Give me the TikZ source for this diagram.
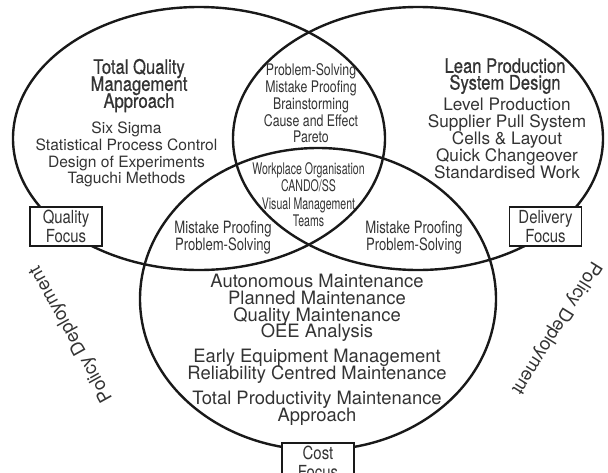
\documentclass[tikz,border=0pt]{standalone}
\usepackage{fontspec}
\setmainfont{TeX Gyre Heros}
\newfontfamily\condfont[FakeStretch=0.77]{TeX Gyre Heros}
\newfontfamily\narrowfont[FakeStretch=0.66]{TeX Gyre Heros}
\newfontfamily\focusfont[FakeStretch=0.83]{TeX Gyre Heros}
\newfontfamily\headfont[FakeStretch=0.83,FakeBold=0.6]{TeX Gyre Heros}
\definecolor{ink}{gray}{0.1}
\definecolor{textgray}{gray}{0.2}
\lineskiplimit=-20pt

\begin{document}
\begin{tikzpicture}[x=1pt,y=-1pt,
        ring/.style={draw=ink,line width=2.4pt},
        txt/.style={align=center,anchor=north,inner sep=0pt,text=textgray},
        focusbox/.style={draw=ink,line width=1.8pt,fill=white,align=center,inner sep=0pt,
            minimum width=72pt,minimum height=39pt,text=textgray,
            font=\focusfont\fontsize{18}{18.7}\selectfont},
        policy/.style={inner sep=0pt,text=textgray,font=\fontsize{18.5}{18.5}\selectfont}]

            %\draw [help lines] (0,0) grid (608,472);

            \useasboundingbox (0,0) rectangle (608,472);

            % the three rings
            \draw[ring] (199,138.5) ellipse [x radius=186, y radius=131.5];
            \draw[ring] (418,138.5) ellipse [x radius=185, y radius=131.5];
            \draw[ring] (318,299) ellipse [x radius=178, y radius=151];

            \path   (139,58.7) node (tqmhead) [txt,font=\headfont\fontsize{20}{17}\selectfont] {Total Quality\\Management\\Approach}
                    (126.5,121.6) node (tqmlist) [txt,font=\fontsize{15.6}{16.8}\selectfont] {Six Sigma\\Statistical Process Control\\Design of Experiments\\Taguchi Methods}
                    (505,58.1) node (leanhead) [txt,font=\headfont\fontsize{20}{16.7}\selectfont] {Lean Production\\System Design}
                    (507,97.4) node (leanlist) [txt,font=\fontsize{17.2}{17.2}\selectfont] {Level Production\\Supplier Pull System\\Cells \& Layout\\Quick Changeover\\Standardised Work}
                    (311,63.8) node (toplens) [txt,font=\condfont\fontsize{16}{16.7}\selectfont] {Problem-Solving\\Mistake Proofing\\Brainstorming\\Cause and Effect\\Pareto}
                    (308.5,162.3) node (core) [txt,font=\narrowfont\fontsize{16}{17.3}\selectfont] {Workplace Organisation\\CANDO/SS\\Visual Management\\Teams}
                    (223,220.6) node (leftlens) [txt,font=\condfont\fontsize{17}{17.4}\selectfont] {Mistake Proofing\\Problem-Solving}
                    (414,220.6) node (rightlens) [txt,font=\condfont\fontsize{17}{17.4}\selectfont] {Mistake Proofing\\Problem-Solving}
                    (317,273.6) node (tpmlist) [txt,font=\fontsize{18.4}{16.9}\selectfont] {Autonomous Maintenance\\Planned Maintenance\\Quality Maintenance\\OEE Analysis\\[8pt]Early Equipment Management\\Reliability Centred Maintenance\\[8pt]Total Productivity Maintenance\\Approach};

            \path   (66,226.5) node (quality) [focusbox] {Quality\\Focus}
                    (545.5,226.5) node (delivery) [focusbox] {Delivery\\Focus}
                    (318,462.5) node (cost) [focusbox] {Cost\\Focus};

            \path   (71.5,334) node (policyleft) [policy,rotate=119] {Policy Deployment}
                    (556,328) node (policyright) [policy,rotate=-122] {Policy Deployment};

\end{tikzpicture}
\end{document}
